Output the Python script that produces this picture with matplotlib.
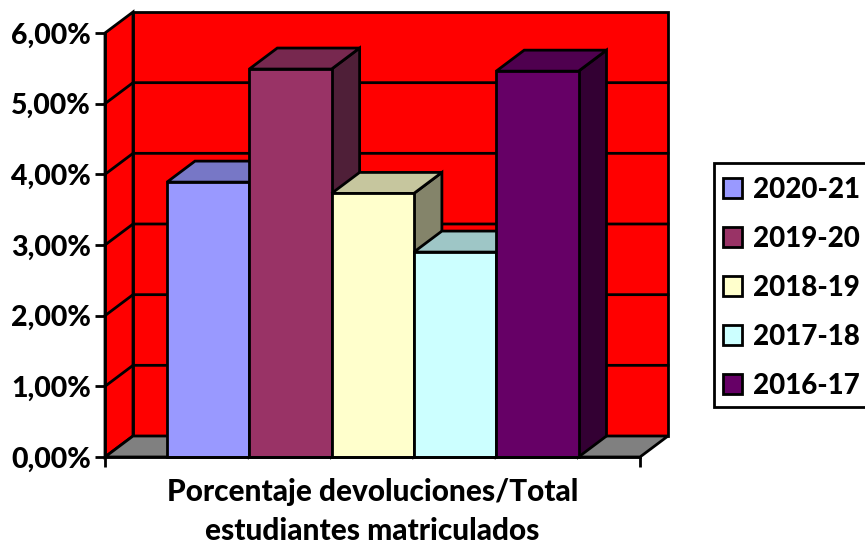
import matplotlib
matplotlib.use("Agg")
import matplotlib.pyplot as plt
from matplotlib.patches import Polygon, Patch, Rectangle

FONT = "Lato"
plt.rcParams["font.family"] = [FONT, "DejaVu Sans"]

series = ["2020-21", "2019-20", "2018-19", "2017-18", "2016-17"]
values = [3.89, 5.49, 3.73, 2.90, 5.46]
front_colors = ["#9999FF", "#993366", "#FFFFCC", "#CCFFFF", "#660066"]
top_colors = ["#7777C6", "#77284F", "#C6C69E", "#9EC6C6", "#4F004F"]
side_colors = ["#555590", "#4F1F38", "#84846A", "#6A8484", "#330033"]
yticks = [0, 1, 2, 3, 4, 5, 6]
ylabels = ["0,00%", "1,00%", "2,00%", "3,00%", "4,00%", "5,00%", "6,00%"]
xlabel = "Porcentaje devoluciones/Total\nestudiantes matriculados"

W, H = 865, 546
L, R, T, B = 105, 640, 33, 457
fig = plt.figure(figsize=(W / 100, H / 100), dpi=100)
ax = fig.add_axes([L / W, 1 - B / H, (R - L) / W, (B - T) / H])

px_per_x = 82.3
x0 = -(167 - L) / px_per_x
x1 = x0 + (R - L) / px_per_x
ax.set_xlim(x0, x1)
ax.set_ylim(0, 6)
ax.patch.set_alpha(0)
dx = 28 / px_per_x
dy = 21 / ((B - T) / 6)
lw = 2.0
kw = dict(edgecolor="black", linewidth=lw, clip_on=False, joinstyle="miter")

# walls and floor
ax.add_patch(Polygon([(x0 + dx, dy), (x1 + dx, dy), (x1 + dx, 6 + dy), (x0 + dx, 6 + dy)], facecolor="#FF0000", zorder=1, **kw))
ax.add_patch(Polygon([(x0, 0), (x0 + dx, dy), (x0 + dx, 6 + dy), (x0, 6)], facecolor="#FF0000", zorder=1, **kw))
ax.add_patch(Polygon([(x0, 0), (x1, 0), (x1 + dx, dy), (x0 + dx, dy)], facecolor="#808080", zorder=1, **kw))
for v in yticks[1:-1]:
    ax.plot([x0, x0 + dx, x1 + dx], [v, v + dy, v + dy], color="black", lw=lw, zorder=2, clip_on=False)

# bars, drawn left to right
for i, (v, f, t, s) in enumerate(zip(values, front_colors, top_colors, side_colors)):
    ax.add_patch(Polygon([(i + 1, 0), (i + 1 + dx, dy), (i + 1 + dx, v + dy), (i + 1, v)], facecolor=s, zorder=3 + i, **kw))
    ax.add_patch(Polygon([(i, v), (i + 1, v), (i + 1 + dx, v + dy), (i + dx, v + dy)], facecolor=t, zorder=3 + i, **kw))
    ax.add_patch(Polygon([(i, 0), (i + 1, 0), (i + 1, v), (i, v)], facecolor=f, zorder=3 + i, **kw))

for name in ("top", "right"):
    ax.spines[name].set_visible(False)
for name in ("left", "bottom"):
    ax.spines[name].set_linewidth(lw)
    ax.spines[name].set_zorder(20)
ax.set_yticks(yticks)
ax.set_yticklabels(ylabels, fontsize=20.5, fontweight=900)
ax.set_xticks([x0, x1])
ax.set_xticklabels(["", ""])
ax.tick_params(axis="both", length=7, width=lw, color="black", pad=3)
ax.set_xlabel(xlabel, fontsize=21.4, fontweight=900, linespacing=1.5, labelpad=5)

# legend frame, then the entries inside it
fig.add_artist(Rectangle((713.5 / W, 1 - 407 / H), 160 / W, 244 / H, transform=fig.transFigure,
                         facecolor="white", edgecolor="black", linewidth=lw, clip_on=True))
handles = [Patch(facecolor=c, edgecolor="black", linewidth=lw) for c in front_colors]
leg = fig.legend(handles, series, loc="upper left", bbox_to_anchor=(722.5 / W, 1 - 176.5 / H),
                 bbox_transform=fig.transFigure, frameon=False,
                 prop={"family": FONT, "weight": 900, "size": 20}, borderpad=0,
                 labelspacing=0.83, handlelength=0.7, handleheight=0.7, handletextpad=0.38, borderaxespad=0)
leg.set_zorder(5)

fig.savefig("out.png", dpi=100)
